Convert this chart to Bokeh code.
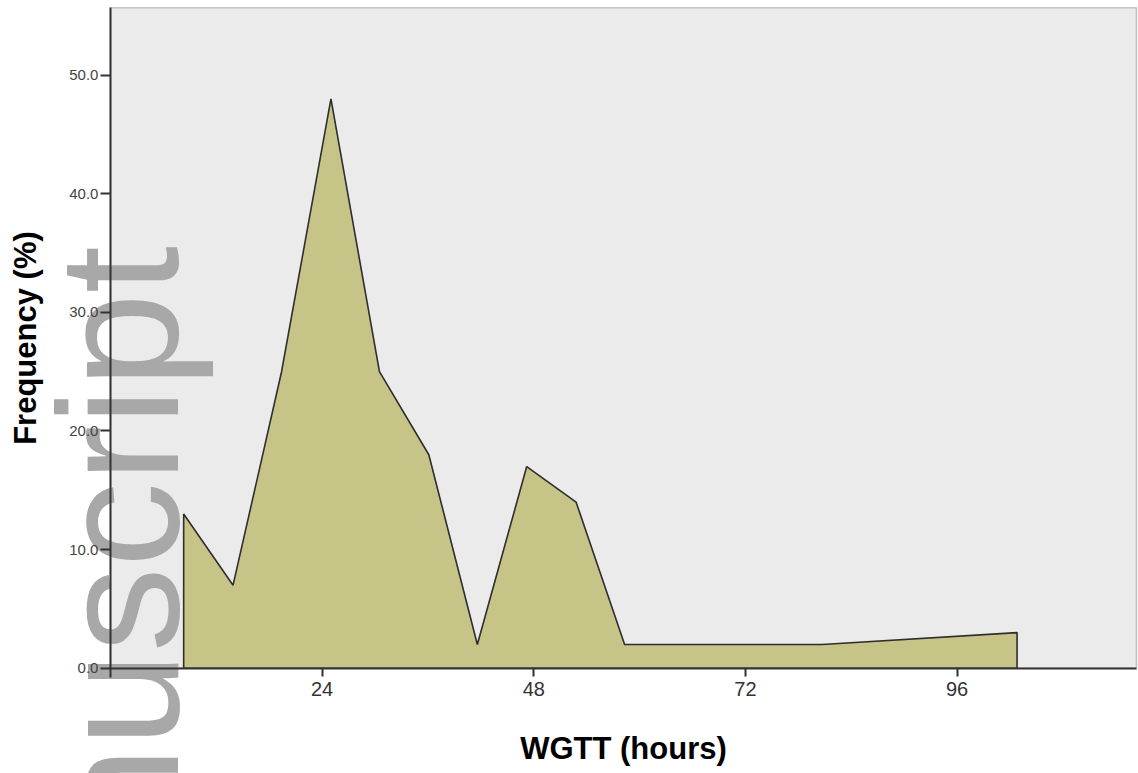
import math
from bokeh.plotting import figure
from bokeh.models import (Range1d, FixedTicker, Label, LinearAxis,
                          BoxAnnotation, CustomJSTickFormatter)
from bokeh.embed import file_html
from bokeh.resources import INLINE

# ---- data ----
hours = [8.3, 13.9, 19.4, 25.0, 30.5, 36.1, 41.6, 47.2, 52.8, 58.3, 80.7, 102.8]
freq = [13.0, 7.0, 25.0, 48.0, 25.0, 18.0, 2.0, 17.0, 14.0, 2.0, 2.0, 3.0]
x_ticks = [24, 48, 72, 96]
y_ticks = [0, 10, 20, 30, 40, 50]
x_title = "WGTT (hours)"
y_title = "Frequency (%)"
watermark = "nuscript"

FONT = "Liberation Sans"

# plotting area of the chart (data units)
AREA_X = (0.0, 116.34)
AREA_Y = (0.0, 55.68)

p = figure(width=1138, height=773, output_backend="svg", toolbar_location=None,
           x_range=Range1d(-12.47, 116.57), y_range=Range1d(-8.88, 56.3),
           x_axis_location=None, y_axis_location=None,
           min_border=0, min_border_left=0, min_border_right=0,
           min_border_top=0, min_border_bottom=0)
if p.title is not None:
    p.title.visible = False

p.background_fill_color = "white"
p.border_fill_color = "white"
p.outline_line_color = None
p.xgrid.visible = False
p.ygrid.visible = False

# grey plotting area with thin frame
p.add_layout(BoxAnnotation(left=AREA_X[0], right=AREA_X[1],
                           bottom=AREA_Y[0], top=AREA_Y[1],
                           fill_color="#ebebeb", fill_alpha=1.0,
                           line_color="#4a4a4a", line_width=1.5,
                           level="underlay"))

# watermark text (rotated), under the chart lines
p.add_layout(Label(x=1.0, y=35.6, text=watermark, angle=math.pi / 2,
                   text_align="right", text_baseline="alphabetic",
                   text_font=FONT, text_font_size="170px",
                   text_color="#a8a8a8", level="underlay"))

# area (closed to the baseline at both ends)
px = [hours[0]] + hours + [hours[-1]]
py = [0.0] + freq + [0.0]
p.patch(px, py, fill_color="#c7c488", line_color="#2e2e2e", line_width=1.6)

# axes at fixed data locations
xa = LinearAxis(fixed_location=0, bounds=AREA_X)
xa.ticker = FixedTicker(ticks=x_ticks)
xa.minor_tick_line_color = None
xa.major_tick_in = 0
xa.major_tick_out = 8
xa.major_tick_line_color = "#333333"
xa.major_tick_line_width = 2
xa.axis_line_color = "#333333"
xa.axis_line_width = 2
xa.major_label_text_font = FONT
xa.major_label_text_font_size = "20px"
xa.major_label_text_color = "#333333"
xa.major_label_standoff = 6
p.add_layout(xa, "below")

ya = LinearAxis(fixed_location=0, bounds=(-0.75, AREA_Y[1]))
ya.ticker = FixedTicker(ticks=y_ticks)
ya.formatter = CustomJSTickFormatter(code="return tick.toFixed(1);")
ya.minor_tick_line_color = None
ya.major_tick_in = 0
ya.major_tick_out = 10
ya.major_tick_line_color = "#333333"
ya.major_tick_line_width = 2
ya.axis_line_color = "#333333"
ya.axis_line_width = 2
ya.major_label_text_font = FONT
ya.major_label_text_font_size = "15px"
ya.major_label_text_color = "#444444"
ya.major_label_standoff = 2
p.add_layout(ya, "left")

# axis titles
p.add_layout(Label(x=(AREA_X[0] + AREA_X[1]) / 2, y=-6.75, text=x_title,
                   text_align="center", text_baseline="alphabetic",
                   text_font=FONT, text_font_size="31px",
                   text_font_style="bold", text_color="black"))
p.add_layout(Label(x=-9.64, y=(AREA_Y[0] + AREA_Y[1]) / 2, text=y_title,
                   angle=math.pi / 2,
                   text_align="center", text_baseline="alphabetic",
                   text_font=FONT, text_font_size="31px",
                   text_font_style="bold", text_color="black"))

open("out.html", "w").write(file_html(p, INLINE))
